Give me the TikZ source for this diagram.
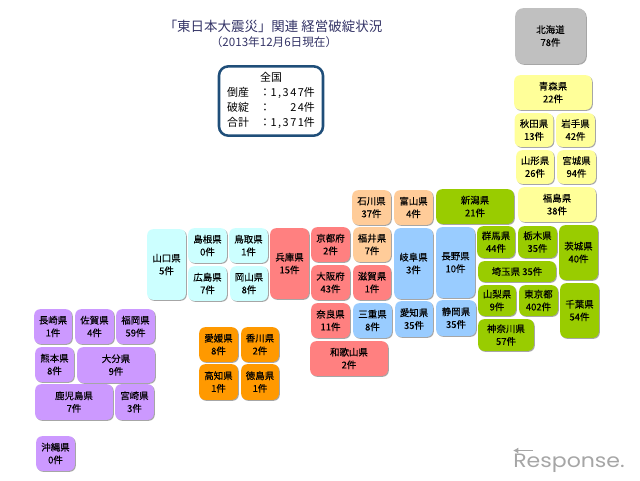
\documentclass[tikz,border=0pt]{standalone}
\usepackage{fontspec}
\setmainfont{Noto Sans CJK JP}
\newfontfamily\tilefont{Noto Sans CJK JP}[FakeBold=0.07]
\newfontfamily\digitfont{Noto Sans CJK JP}[LetterSpace=14]
\newfontfamily\logofont{Poppins}
\definecolor{hokkaido}{HTML}{C0C0C0}
\definecolor{tohoku}{HTML}{FFFF99}
\definecolor{kanto}{HTML}{99CC00}
\definecolor{hokuriku}{HTML}{FFCC99}
\definecolor{tokai}{HTML}{99CCFF}
\definecolor{kinki}{HTML}{FF8080}
\definecolor{chugoku}{HTML}{CCFFFF}
\definecolor{shikoku}{HTML}{FF9900}
\definecolor{kyushu}{HTML}{CC99FF}
\definecolor{titleblue}{HTML}{333366}
\definecolor{boxblue}{HTML}{1F4E79}
\usetikzlibrary{shadows, arrows.meta}
\tikzset{
	tile/.style n args = {3}{rectangle, rounded corners = 4.5pt, fill = #1, minimum width = #2*0.75pt - 1pt, minimum height = #3*0.75pt - 1pt, inner sep = 0pt, align = center, font = \tilefont\fontsize{7.1}{9.5}\selectfont, drop shadow = {shadow xshift = 0.7pt, shadow yshift = -0.7pt, fill = black, opacity = 0.35}},
}
\begin{document}
\begin{tikzpicture}[x = 0.75pt, y = -0.75pt]
	\useasboundingbox (0, 0) rectangle (640, 480);
	\node[font = \fontsize{10.1}{12}\selectfont, text = titleblue] at (273, 26) (title) {「東日本大震災」関連 経営破綻状況};
	\node[font = \fontsize{8.7}{10}\selectfont, text = titleblue] at (274, 42) (subtitle) {（2013年12月6日現在）};
	\node[draw = boxblue, line width = 1.9pt, rounded corners = 7pt, minimum width = 78pt, minimum height = 52pt, inner sep = 0pt, font = \fontsize{8.2}{11.2}\selectfont] at (271, 101) (total) {\raisebox{-1.2pt}{\begin{tabular}{@{}l@{\hspace{8pt}}c@{\hspace{0pt}}r@{}}\multicolumn{3}{c}{全国}\\倒産&：&{\digitfont 1,347}件\\破綻&：&{\digitfont 24}件\\合計&：&{\digitfont 1,371}件\end{tabular}}};

	\node[tile = {hokkaido}{72}{57}, rounded corners = 6pt] at (550.5, 36) (hokkaidou) {北海道\\78件};

	\node[tile = {tohoku}{79}{36}] at (553, 92.5) (aomori) {青森県\\22件};
	\node[tile = {tohoku}{40}{35}] at (534, 130) (akita) {秋田県\\13件};
	\node[tile = {tohoku}{40}{35}] at (575.5, 130) (iwate) {岩手県\\42件};
	\node[tile = {tohoku}{39}{35}] at (535, 167) (yamagata) {山形県\\26件};
	\node[tile = {tohoku}{40}{35}] at (576.5, 167) (miyagi) {宮城県\\94件};
	\node[tile = {tohoku}{79}{36}] at (557, 204.5) (fukushima) {福島県\\38件};

	\node[tile = {kanto}{79}{36}] at (475, 206.5) (niigata) {新潟県\\21件};
	\node[tile = {kanto}{39}{33}] at (496, 242) (gunma) {群馬県\\44件};
	\node[tile = {kanto}{40}{33}] at (537.5, 242) (tochigi) {栃木県\\35件};
	\node[tile = {kanto}{40}{56}] at (578.5, 252.5) (ibaraki) {茨城県\\40件};
	\node[tile = {kanto}{79}{22}] at (517, 271.5) (saitama) {埼玉県 35件};
	\node[tile = {kanto}{39}{32}] at (497, 300.5) (yamanashi) {山梨県\\9件};
	\node[tile = {kanto}{40}{32}] at (538.5, 300.5) (tokyo) {東京都\\402件};
	\node[tile = {kanto}{40}{56}] at (579.5, 310.5) (chiba) {千葉県\\54件};
	\node[tile = {kanto}{57}{33}] at (506, 335) (kanagawa) {神奈川県\\57件};

	\node[tile = {hokuriku}{40}{36}] at (371.5, 207.5) (ishikawa) {石川県\\37件};
	\node[tile = {hokuriku}{40}{36}] at (413.5, 207.5) (toyama) {富山県\\4件};
	\node[tile = {hokuriku}{39}{36}] at (372, 244.5) (fukui) {福井県\\7件};

	\node[tile = {tokai}{40}{72}] at (413.5, 263.5) (gifu) {岐阜県\\3件};
	\node[tile = {tokai}{40}{72}] at (455.5, 262.5) (nagano) {長野県\\10件};
	\node[tile = {tokai}{40}{36}] at (372.5, 320.5) (mie) {三重県\\8件};
	\node[tile = {tokai}{39}{37}] at (414, 319) (aichi) {愛知県\\35件};
	\node[tile = {tokai}{41}{37}] at (456, 318) (shizuoka) {静岡県\\35件};

	\node[tile = {kinki}{40}{72}] at (289.5, 263.5) (hyogo) {兵庫県\\15件};
	\node[tile = {kinki}{40}{36}] at (330.5, 244.5) (kyoto) {京都府\\2件};
	\node[tile = {kinki}{40}{36}] at (330.5, 282.5) (osaka) {大阪府\\43件};
	\node[tile = {kinki}{39}{36}] at (372, 282.5) (shiga) {滋賀県\\1件};
	\node[tile = {kinki}{40}{36}] at (330.5, 320.5) (nara) {奈良県\\11件};
	\node[tile = {kinki}{79}{36}] at (349, 358.5) (wakayama) {和歌山県\\2件};

	\node[tile = {chugoku}{40}{72}] at (166.5, 264.5) (yamaguchi) {山口県\\5件};
	\node[tile = {chugoku}{40}{36}] at (207.5, 245.5) (shimane) {島根県\\0件};
	\node[tile = {chugoku}{40}{36}] at (248.5, 245.5) (tottori) {鳥取県\\1件};
	\node[tile = {chugoku}{40}{36}] at (207.5, 283.5) (hiroshima) {広島県\\7件};
	\node[tile = {chugoku}{39}{36}] at (249, 283.5) (okayama) {岡山県\\8件};

	\node[tile = {shikoku}{40}{36}] at (218.5, 344.5) (ehime) {愛媛県\\8件};
	\node[tile = {shikoku}{39}{36}] at (260, 344.5) (kagawa) {香川県\\2件};
	\node[tile = {shikoku}{40}{37}] at (218.5, 382) (kochi) {高知県\\1件};
	\node[tile = {shikoku}{39}{37}] at (260, 382) (tokushima) {徳島県\\1件};

	\node[tile = {kyushu}{39}{36}] at (53, 326.5) (nagasaki) {長崎県\\1件};
	\node[tile = {kyushu}{40}{36}] at (94.5, 326.5) (saga) {佐賀県\\4件};
	\node[tile = {kyushu}{40}{36}] at (135.5, 326.5) (fukuoka) {福岡県\\59件};
	\node[tile = {kyushu}{40}{36}] at (54.5, 364.5) (kumamoto) {熊本県\\8件};
	\node[tile = {kyushu}{79}{37}] at (116, 365) (oita) {大分県\\9件};
	\node[tile = {kyushu}{79}{37}] at (74, 402) (kagoshima) {鹿児島県\\7件};
	\node[tile = {kyushu}{40}{37}] at (134.5, 402) (miyazaki) {宮崎県\\3件};
	\node[tile = {kyushu}{40}{36}] at (55.5, 453.5) (okinawa) {沖縄県\\0件};

	\node[font = \logofont\fontsize{14.5}{16}\selectfont, text = gray!70, inner sep = 0pt, anchor = base west, xscale = 1.14, transform shape] at (513, 467) (logo) {Response.};
	\draw[-{Latex[length = 4pt, width = 4.5pt]}, line width = 1pt, color = gray!70] (logo.base west) ++(20, -16.5) -- ++(-20, 0);
\end{tikzpicture}
\end{document}
